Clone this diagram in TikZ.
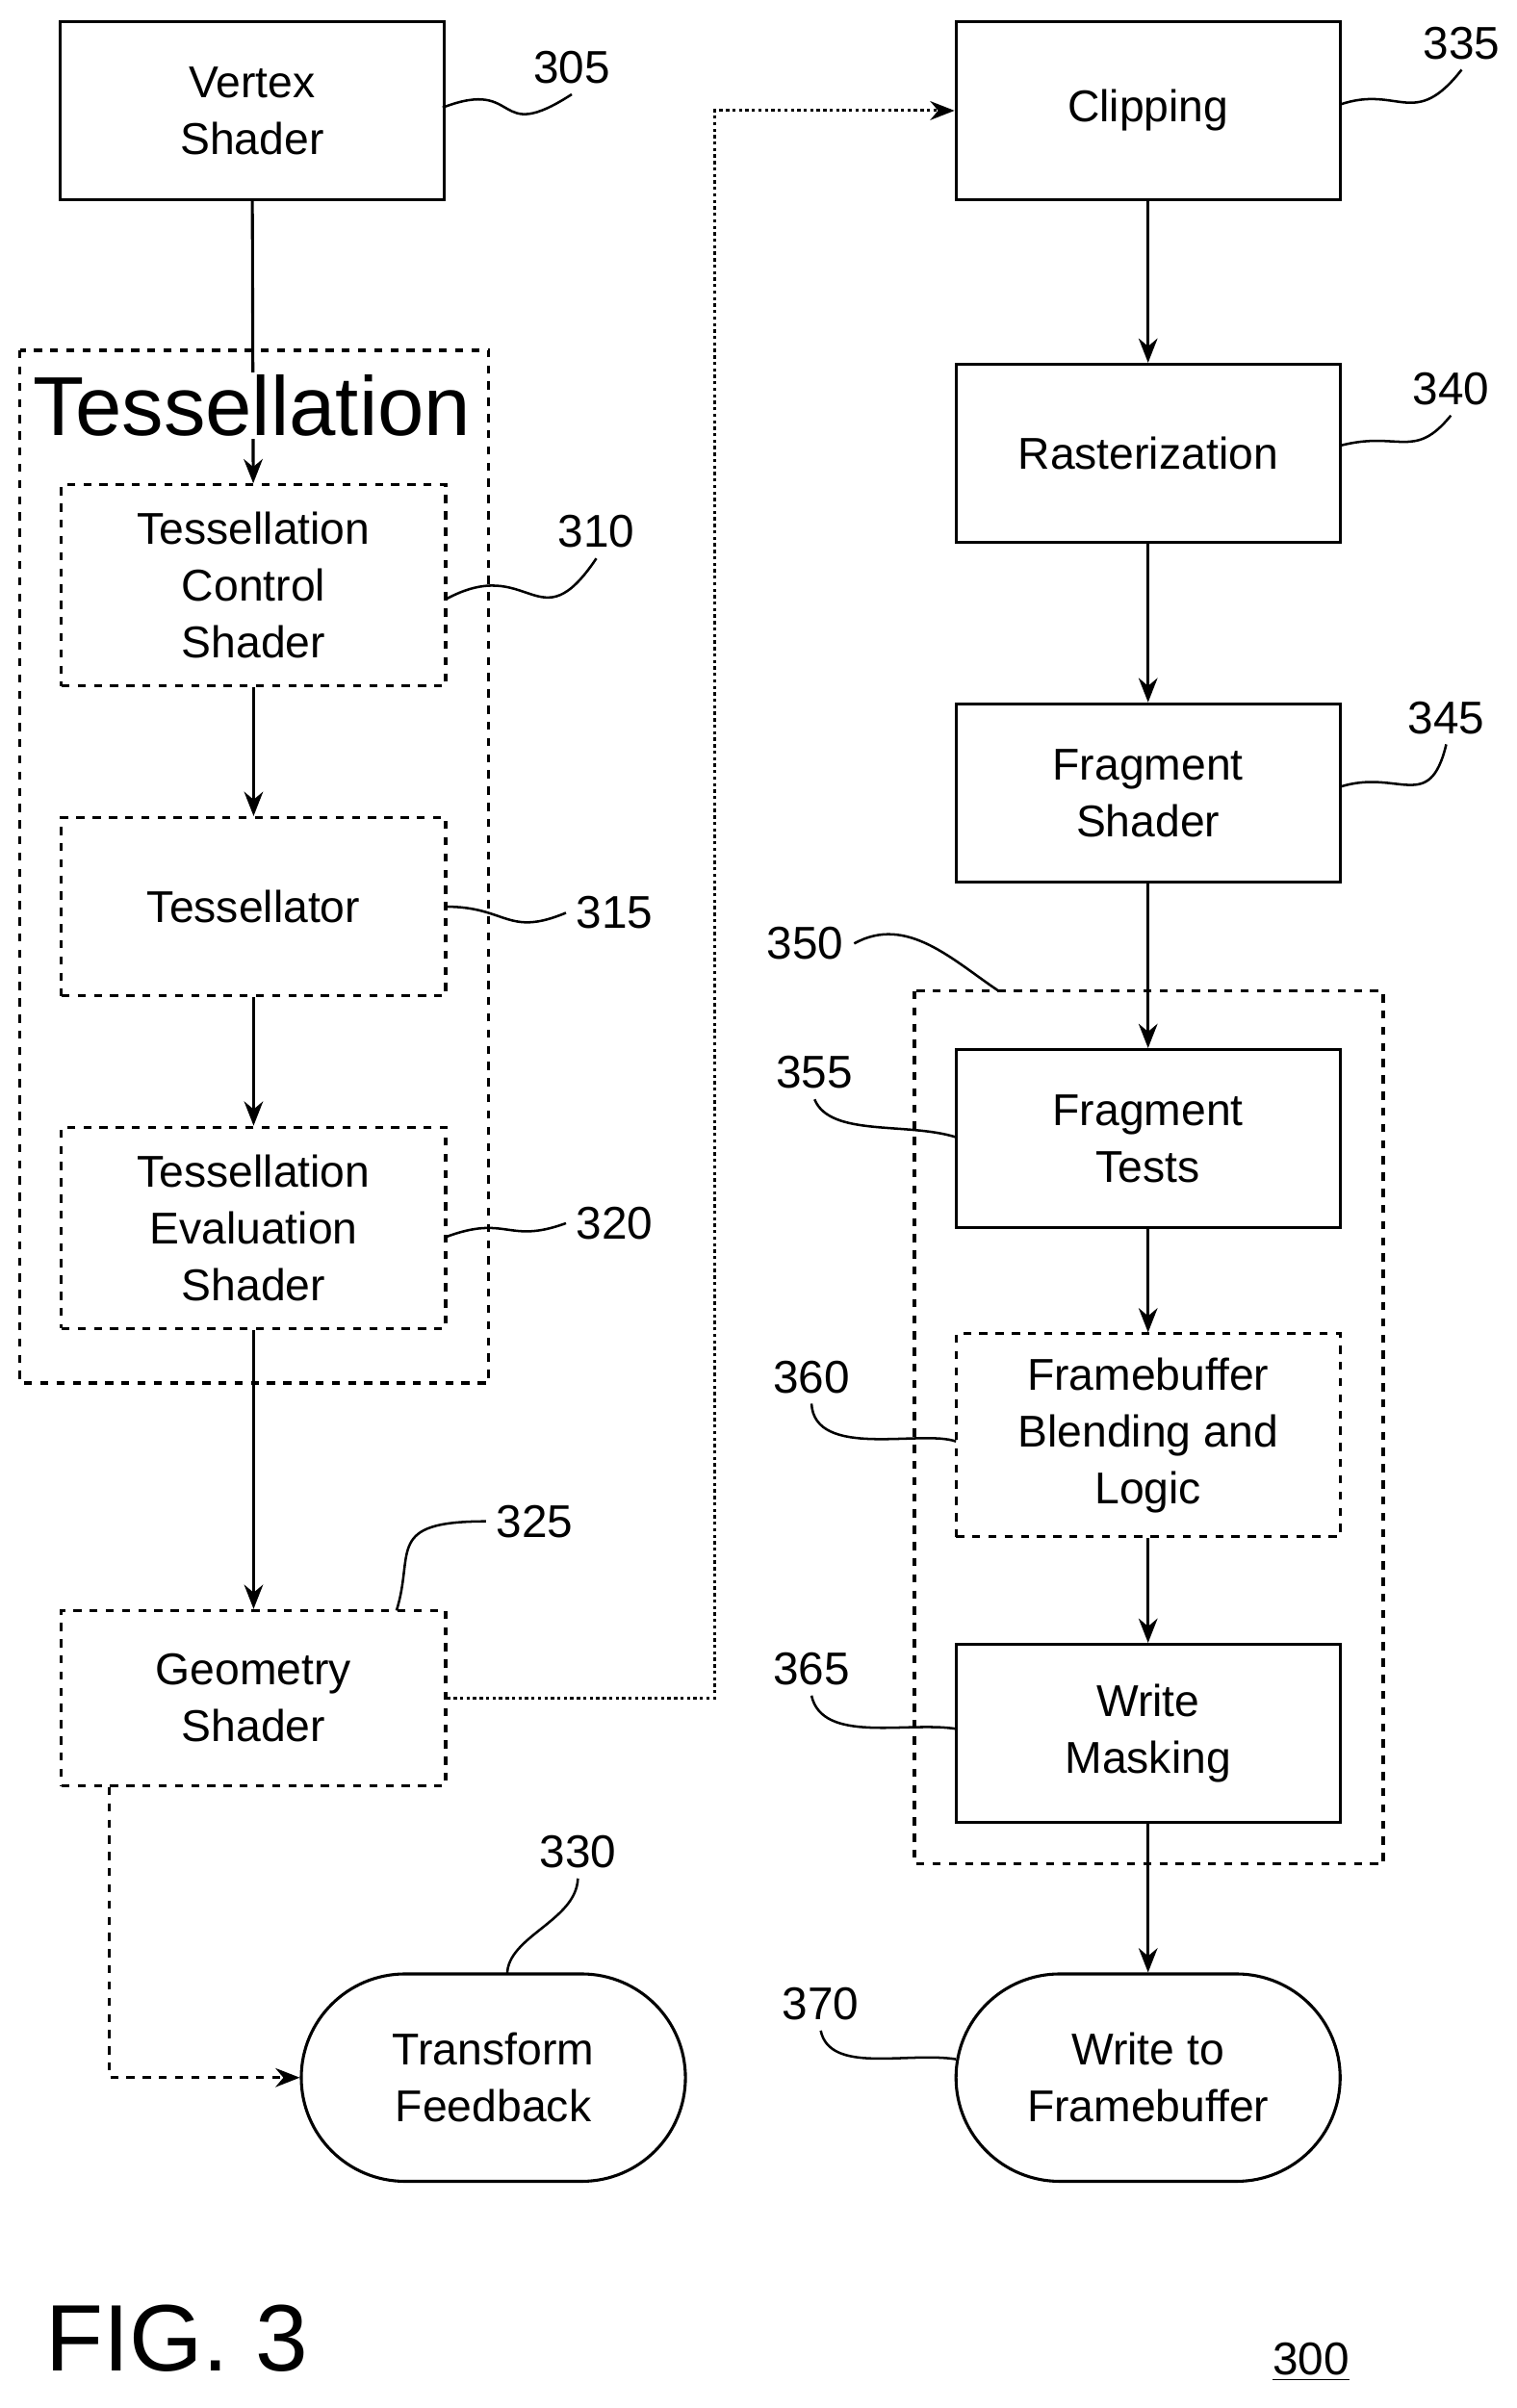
\documentclass[tikz,border=0pt]{standalone}
\usepackage{fontspec}
\setmainfont{Liberation Sans}
\usetikzlibrary{arrows.meta,positioning,calc}

\begin{document}
\begin{tikzpicture}[x=0.02cm, y=-0.02cm, line width=1.1pt,
    box/.style={draw, minimum width=5cm, minimum height=2.32cm, align=center, font=\fontsize{16.5}{21}\selectfont},
    dbox/.style={box, dashed},
    term/.style={box, rounded corners=1.35cm, minimum height=2.7cm},
    num/.style={font=\fontsize{17}{20}\selectfont},
    lead/.style={line width=0.9pt},
    flow/.style={-{Stealth[length=9pt,width=7pt]}}]
  \useasboundingbox (0,0) rectangle (987,1567);

  % left column
  \node[box] (vs) at (164,72) {Vertex\\Shader};
  \draw[dashed] (13,228) rectangle (318,900);
  \node[box] (tcs) at (165,381) [dashed, minimum height=2.62cm] {Tessellation\\Control\\Shader};
  \draw[flow] (vs) -- (tcs);
  \node[fill=white, inner sep=1pt, font=\fontsize{31}{34}\selectfont] (tess) at (164,264) {Tessellation};
  \node[dbox] (tsr) at (165,590) {Tessellator};
  \node[dbox, minimum height=2.62cm] (tes) at (165,799) {Tessellation\\Evaluation\\Shader};
  \node[dbox, minimum height=2.28cm] (gs) at (165,1105) {Geometry\\Shader};
  \node[term] (tf) at (321,1352) {Transform\\Feedback};

  % right column
  \node[box] (clip) at (747,72) {Clipping};
  \node[box] (rast) at (747,295) {Rasterization};
  \node[box] (fs) at (747,516) {Fragment\\Shader};
  \draw[dashed] (595,645) rectangle (900,1213);
  \node[box] (ft) at (747,741) {Fragment\\Tests};
  \node[dbox, minimum height=2.64cm] (fb) at (747,934) {Framebuffer\\Blending and\\Logic};
  \node[box] (wm) at (747,1128) {Write\\Masking};
  \node[term] (wtf) at (747,1352) {Write to\\Framebuffer};

  % arrows
  \draw[flow] (tcs) -- (tsr);
  \draw[flow] (tsr) -- (tes);
  \draw[flow] (tes) -- (gs);
  \draw[flow, dash pattern=on 1.2pt off 1.2pt] (gs.east) -| (465,72) -- (clip.west);
  \draw[flow, dashed] (gs.south west) ++(32,0) |- (tf.west);
  \draw[flow] (clip) -- (rast);
  \draw[flow] (rast) -- (fs);
  \draw[flow] (fs) -- (ft);
  \draw[flow] (ft) -- (fb);
  \draw[flow] (fb) -- (wm);
  \draw[flow] (wm) -- (wtf);

  % reference numbers
  \node[num] (n305) at (372,44) {305};
  \node[num] (n310) at (388,346) {310};
  \node[num] (n315) at (400,594) {315};
  \node[num] (n320) at (400,796) {320};
  \node[num] (n325) at (348,990) {325};
  \node[num] (n330) at (376,1205) {330};
  \node[num] (n335) at (951,28) {335};
  \node[num] (n340) at (944,253) {340};
  \node[num] (n345) at (941,467) {345};
  \node[num] (n350) at (524,614) {350};
  \node[num] (n355) at (530,698) {355};
  \node[num] (n360) at (528,896) {360};
  \node[num] (n365) at (528,1086) {365};
  \node[num] (n370) at (534,1304) {370};
  \draw[lead] (288,70) .. controls (340,50) and (320,95) .. (n305.south);
  \draw[lead] (290,390) .. controls (345,360) and (350,420) .. (n310.south);
  \draw[lead] (290,590) .. controls (330,590) and (330,610) .. (n315.west);
  \draw[lead] (290,805) .. controls (330,790) and (330,810) .. (n320.west);
  \draw[lead] (258,1048) .. controls (270,1010) and (250,990) .. (n325.west);
  \draw[lead] (330,1285) .. controls (330,1260) and (375,1250) .. (n330.south);
  \draw[lead] (872,68) .. controls (910,55) and (920,85) .. (n335.south);
  \draw[lead] (872,290) .. controls (910,280) and (920,300) .. (n340.south);
  \draw[lead] (872,512) .. controls (910,500) and (930,530) .. (n345.south);
  \draw[lead] (n350.east) .. controls (590,595) and (620,625) .. (650,645);
  \draw[lead] (n355.south) .. controls (540,740) and (590,730) .. (622,740);
  \draw[lead] (n360.south) .. controls (530,950) and (600,930) .. (622,938);
  \draw[lead] (n365.south) .. controls (535,1135) and (590,1120) .. (622,1125);
  \draw[lead] (n370.south) .. controls (540,1350) and (590,1335) .. (622,1340);

  % caption
  \node[font=\fontsize{35}{38}\selectfont] (fig) at (115,1522) {FIG. 3};
  \node[num] (n300) at (853,1537) {\underline{300}};
\end{tikzpicture}
\end{document}
